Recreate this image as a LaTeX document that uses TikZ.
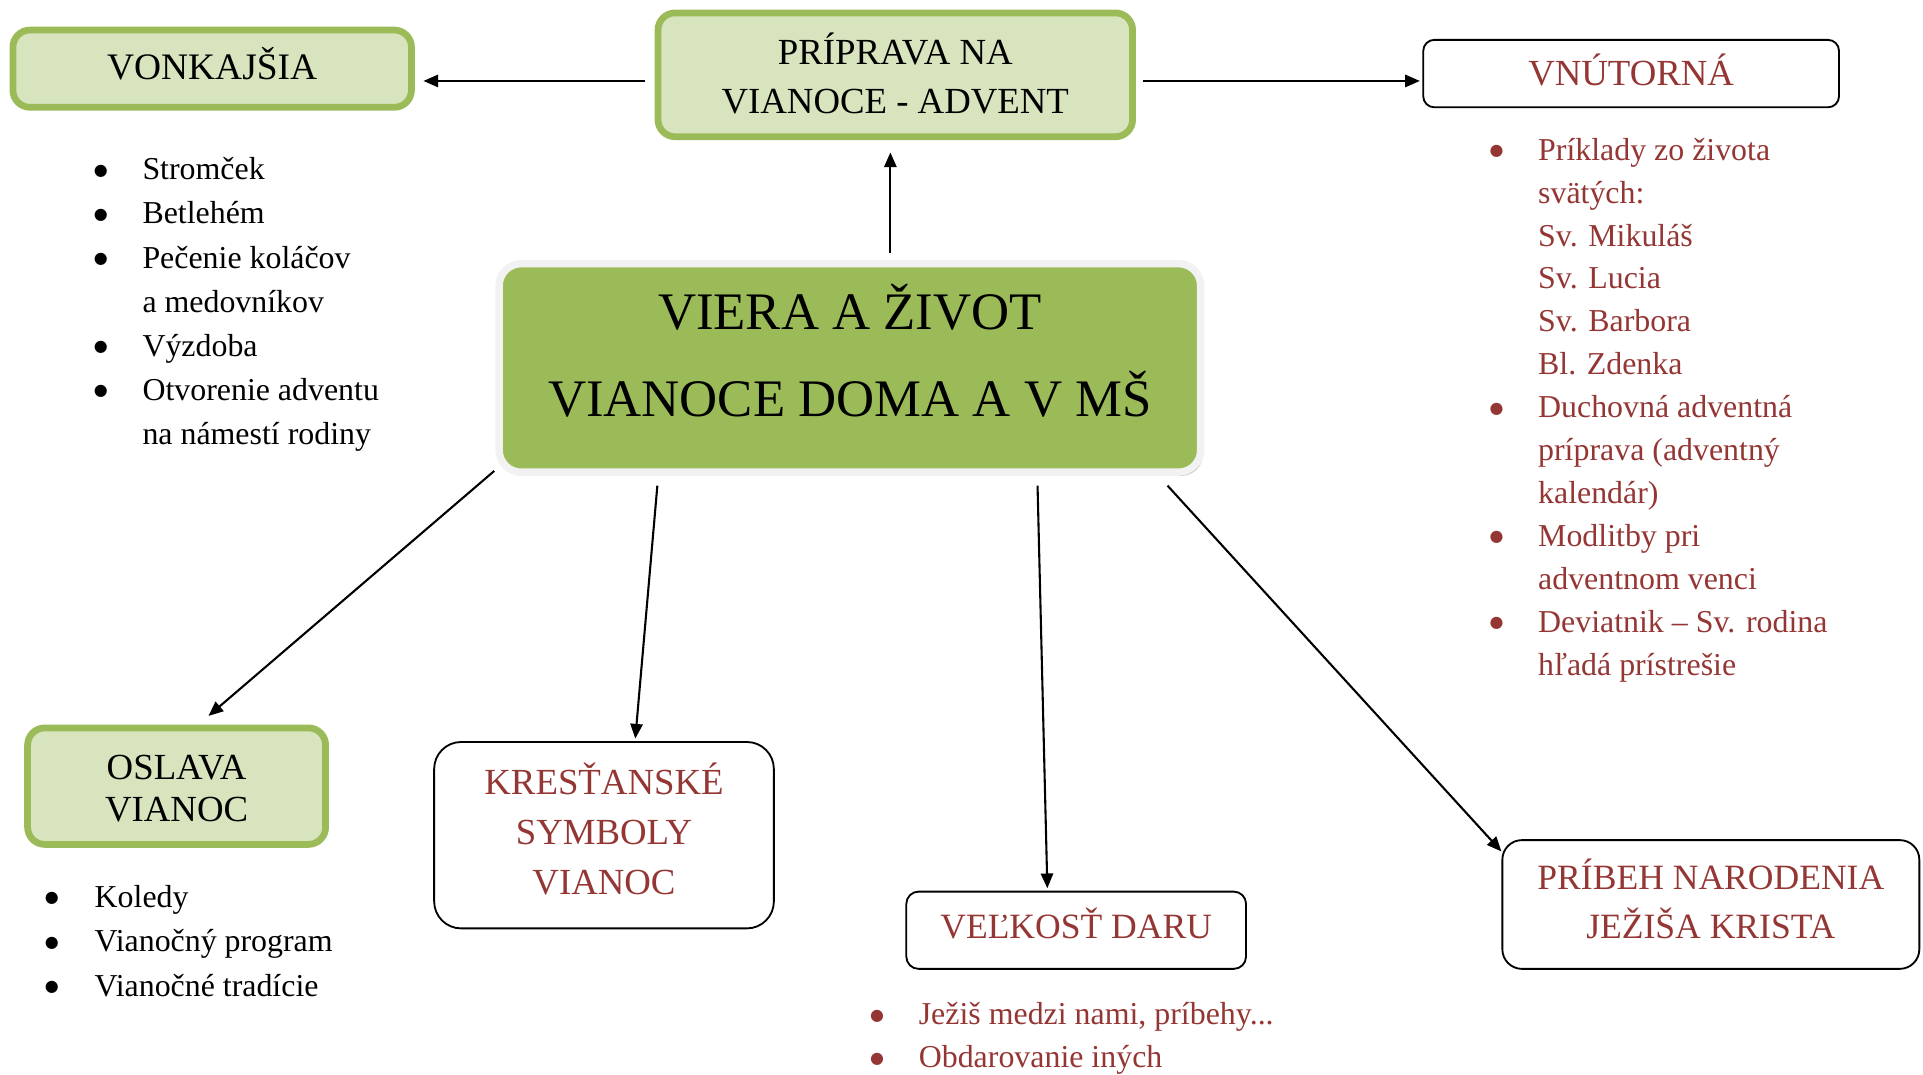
\documentclass[tikz,border=0pt]{standalone}
\usepackage{fontspec}
\setmainfont{Liberation Serif}
\newfontfamily\bulfont{DejaVu Sans}
\usetikzlibrary{calc,shadows,arrows.meta}
\definecolor{ogreen}{HTML}{9BBB59}
\definecolor{lgreen}{HTML}{D7E4BD}
\definecolor{dred}{HTML}{943634}
\definecolor{band}{HTML}{F2F2F2}
\newcommand\lbul[1]{\makebox[#1][l]{\makebox[8pt][c]{\raisebox{3.8pt}{\bulfont\fontsize{13}{13}\selectfont ●}}}}
\newcommand\mlines[1]{\begin{tabular}[b]{@{}c@{}}#1\end{tabular}}
\tikzset{
  gbox/.style={draw=ogreen, line width=5.5pt, fill=lgreen, rounded corners=14pt, inner sep=0pt, text=black, text depth=0pt},
  wbox/.style={draw=black, line width=1.5pt, fill=white, inner sep=0pt, text=dred, text depth=0pt},
  arr/.style={-{Triangle[length=12pt,width=10pt]}, line width=1.7pt},
  blist/.style={inner sep=0pt, anchor=base west}
}
\begin{document}
\begin{tikzpicture}[x=1pt,y=-1pt]
\useasboundingbox (0,0) rectangle (1568,876);

% boxes (text height = 2 x distance from box centre down to last baseline)
\node[gbox, minimum width=325pt, minimum height=63pt, text height=17.4pt, font=\fontsize{30.5}{36}\selectfont] (vonk) at (173,56) {VONKAJŠIA};
\node[gbox, minimum width=387pt, minimum height=101pt, text height=62.4pt, font=\fontsize{30}{40}\selectfont] (prip) at (730,61) {\mlines{PRÍPRAVA NA\\VIANOCE - ADVENT}};
\node[wbox, rounded corners=9pt, minimum width=339pt, minimum height=55pt, text height=19.8pt, font=\fontsize{30}{36}\selectfont] (vnut) at (1330,60) {VNÚTORNÁ};
\node[draw=band, line width=6pt, fill=ogreen, rounded corners=18pt, minimum width=572pt, minimum height=170pt, inner sep=0pt,
      text height=80pt, text depth=0pt, font=\fontsize{43}{71}\selectfont,
      drop shadow={shadow xshift=2pt, shadow yshift=-3pt, fill=gray!55, opacity=1}] (core) at (693,300) {\mlines{VIERA A ŽIVOT\\VIANOCE DOMA A V MŠ}};
\node[gbox, minimum width=243pt, minimum height=95pt, text height=57pt, font=\fontsize{30}{34}\selectfont] (osl) at (144,641) {\mlines{OSLAVA\\VIANOC}};
\node[wbox, rounded corners=22pt, minimum width=277pt, minimum height=152pt, text height=96pt, font=\fontsize{30}{40.5}\selectfont] (kres) at (492.5,681) {\mlines{KRESŤANSKÉ\\SYMBOLY\\VIANOC}};
\node[wbox, rounded corners=10pt, minimum width=277pt, minimum height=63pt, text height=13pt, font=\fontsize{29}{36}\selectfont] (vel) at (877.5,758.5) {VEĽKOSŤ DARU};
\node[wbox, rounded corners=16pt, minimum width=340pt, minimum height=105pt, text height=55.2pt, font=\fontsize{29}{39.6}\selectfont] (prib) at (1395,737.5) {\mlines{PRÍBEH NARODENIA\\JEŽIŠA KRISTA}};

% arrows
\draw[arr] ($(prip.west)+(-8,5)$) -- ($(vonk.east |- prip.west)+(7,5)$);
\draw[arr] ($(prip.east)+(6,5)$) -- ($(vnut.west |- prip.east)+(-2,5)$);
\draw[arr] ($(core.north)+(33,-6)$) -- ($(prip.south -| core.north)+(33,10)$);
\draw[arr] ($(core.south west)+(-1,-4)$) -- ($(osl.north)+(26,-7)$);
\draw[arr] ($(core.south)+(-157,8)$) -- ($(kres.north)+(25.5,-2)$);
\draw[arr] ($(core.south)+(153,8)$) -- ($(vel.north)+(-23.5,-2)$);
\draw[arr] ($(core.south east)+(-30,8)$) -- ($(prib.north west)+(0,10)$);

% lists
\node[blist, font=\fontsize{26}{36}\selectfont] (vlist) at (78,146.6) {\begin{tabular}[t]{@{}l@{}l@{}}
\lbul{38pt} & Stromček\\
\lbul{38pt} & Betlehém\\
\lbul{38pt} & Pečenie koláčov\\
 & a medovníkov\\
\lbul{38pt} & Výzdoba\\
\lbul{38pt} & Otvorenie adventu\\
 & na námestí rodiny
\end{tabular}};

\node[blist, text=dred, font=\fontsize{26}{35}\selectfont] (nlist) at (1216,130.6) {\begin{tabular}[t]{@{}l@{}l@{}}
\lbul{38pt} & Príklady zo života\\
 & svätých:\\
 & Sv. Mikuláš\\
 & Sv. Lucia\\
 & Sv. Barbora\\
 & Bl. Zdenka\\
\lbul{38pt} & Duchovná adventná\\
 & príprava (adventný\\
 & kalendár)\\
\lbul{38pt} & Modlitby pri\\
 & adventnom venci\\
\lbul{38pt} & Deviatnik – Sv. rodina\\
 & hľadá prístrešie
\end{tabular}};

\node[blist, font=\fontsize{26}{36.5}\selectfont] (olist) at (38,739.6) {\begin{tabular}[t]{@{}l@{}l@{}}
\lbul{39pt} & Koledy\\
\lbul{39pt} & Vianočný program\\
\lbul{39pt} & Vianočné tradície
\end{tabular}};

\node[blist, text=dred, text depth=38pt, font=\fontsize{26}{35}\selectfont] (dlist) at (711,835.6) {\begin{tabular}[t]{@{}l@{}l@{}}
\lbul{38pt} & Ježiš medzi nami, príbehy...\\
\lbul{38pt} & Obdarovanie iných
\end{tabular}};
\end{tikzpicture}
\end{document}
